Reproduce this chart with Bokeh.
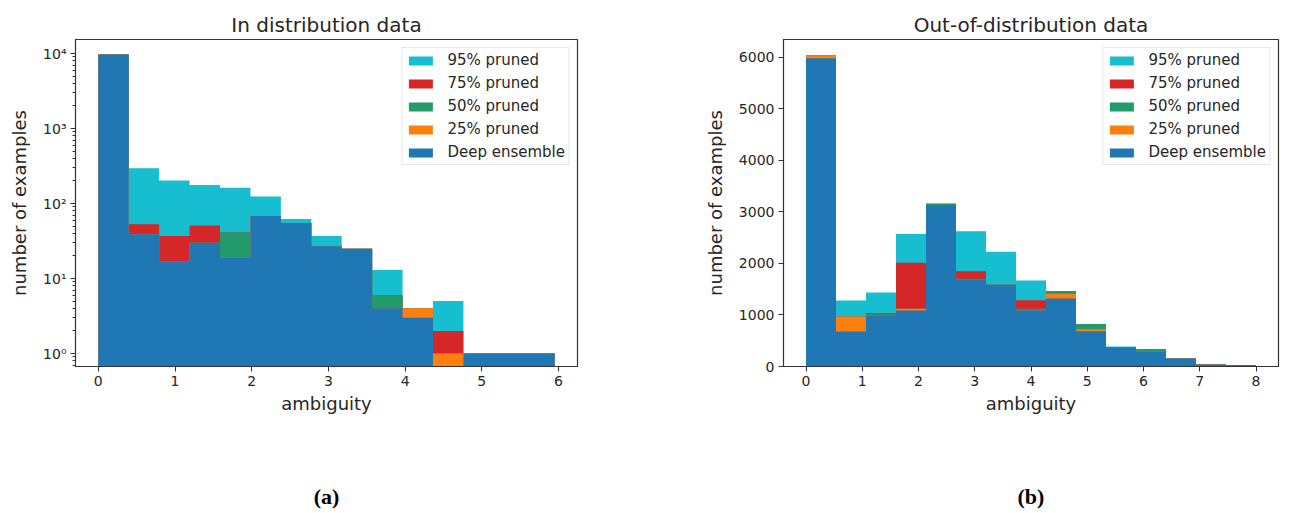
from bokeh.plotting import figure
from bokeh.models import (Range1d, Legend, LegendItem, ColumnDataSource, LogTicker,
                          SingleIntervalTicker, CustomJSTickFormatter, LinearAxis, FixedTicker)
from bokeh.layouts import row
from bokeh.embed import file_html
from bokeh.resources import INLINE

# ---------------- data ----------------
series_names = ["95% pruned", "75% pruned", "50% pruned", "25% pruned", "Deep ensemble"]
series_colors = ["#17becf", "#d62728", "#229a6a", "#ff7f0e", "#1f77b4"]

# In-distribution: 15 bins over ambiguity 0 .. 5.95
in_max_amb = 5.95
in_p95 = [9700, 296, 203, 177, 162, 124, 62, 37, 25, 13, 4, 5, 1, 1, 1]
in_p75 = [9700, 53, 37, 51, 41, 68, 55, 27, 25, 6, 4, 2, 1, 1, 1]
in_p50 = [9700, 39, 17, 30, 41, 68, 55, 27, 25, 6, 4, 1, 1, 1, 1]
in_p25 = [9700, 39, 17, 30, 19, 68, 55, 27, 25, 4, 4, 1, 1, 1, 1]
in_de = [9700, 39, 17, 30, 19, 68, 55, 27, 25, 4, 3, 0, 1, 1, 1]

# Out-of-distribution: 15 bins over ambiguity 0 .. 8.0
ood_max_amb = 8.0
ood_p95 = [6040, 1280, 1435, 2570, 3160, 2625, 2225, 1670, 1465, 825, 390, 335, 155, 40, 30]
ood_p75 = [6040, 970, 1035, 2015, 3160, 1850, 1585, 1285, 1460, 825, 375, 335, 155, 40, 30]
ood_p50 = [6040, 970, 1015, 1120, 3160, 1705, 1585, 1120, 1460, 825, 375, 335, 155, 40, 30]
ood_p25 = [6040, 970, 990, 1120, 3135, 1680, 1585, 1090, 1410, 725, 375, 285, 155, 40, 30]
ood_de = [5980, 680, 990, 1085, 3135, 1680, 1585, 1090, 1320, 685, 375, 285, 155, 40, 30]

captions = ["(a)", "(b)"]

FONT = "DejaVu Sans"
TXT = "#262626"


def style(p, xlabel, ylabel):
    p.title.text_font = FONT
    p.title.text_font_size = "20px"
    p.title.text_font_style = "normal"
    p.title.text_color = TXT
    p.title.align = "center"
    p.title.standoff = 5
    p.outline_line_color = "#333333"
    p.outline_line_width = 1.2
    p.background_fill_color = "white"
    p.border_fill_color = "white"
    p.grid.grid_line_color = None
    for ax in (p.xaxis[0], p.yaxis[0]):
        ax.axis_line_color = "#333333"
        ax.major_tick_line_color = "#333333"
        ax.minor_tick_line_color = None
        ax.major_tick_in = 0
        ax.major_tick_out = 5
        ax.major_label_text_font = FONT
        ax.major_label_text_font_size = "14px"
        ax.major_label_text_color = TXT
        ax.axis_label_text_font = FONT
        ax.axis_label_text_font_size = "18px"
        ax.axis_label_text_font_style = "normal"
        ax.axis_label_text_color = TXT
        ax.major_label_standoff = 4
    p.xaxis[0].axis_label = xlabel
    p.yaxis[0].axis_label = ylabel
    p.xaxis[0].axis_label_standoff = 4
    p.yaxis[0].axis_label_standoff = 10


def draw_hist(p, max_amb, cols, floor):
    n = len(cols[0])
    w = max_amb / n
    edges = [i * w for i in range(n + 1)]
    items = []
    for name, color, vals in zip(series_names, series_colors, cols):
        tops = [v if v > 0 else floor for v in vals]
        src = ColumnDataSource(dict(x=edges, y1=[floor] * (n + 1), y2=tops + [tops[-1]]))
        r = p.varea_step(x="x", y1="y1", y2="y2", step_mode="after", source=src,
                         fill_color=color)
        items.append(LegendItem(label=name, renderers=[r]))
    leg = Legend(items=items, location="top_right")
    leg.label_text_font = FONT
    leg.label_text_font_size = "15px"
    leg.label_text_color = TXT
    leg.glyph_width = 30
    leg.glyph_height = 11
    leg.label_height = 18
    leg.label_standoff = 12
    leg.spacing = 5
    leg.padding = 3
    leg.margin = 8
    leg.border_line_color = "#d0d0d0"
    leg.border_line_width = 1
    leg.background_fill_alpha = 0.9
    p.add_layout(leg)


def caption(p, txt):
    # an empty axis whose label serves as the sub-figure caption
    ax = LinearAxis(ticker=FixedTicker(ticks=[]), axis_label=txt,
                    axis_line_color=None, major_tick_line_color=None,
                    minor_tick_line_color=None,
                    axis_label_text_font="Liberation Serif",
                    axis_label_text_font_size="22px",
                    axis_label_text_font_style="bold",
                    axis_label_text_color="black",
                    axis_label_standoff=67)
    p.add_layout(ax, "below")


# ---------------- left: in distribution (log y) ----------------
p1 = figure(width=660, height=513, output_backend="svg", toolbar_location=None,
            y_axis_type="log",
            x_range=Range1d(-0.05 * in_max_amb, 1.05 * in_max_amb),
            y_range=Range1d(10 ** -0.173, 10 ** 4.187),
            min_border_left=75, min_border_right=83, min_border_top=39, min_border_bottom=147,
            title="In distribution data")
draw_hist(p1, in_max_amb, [in_p95, in_p75, in_p50, in_p25, in_de], 0.1)
style(p1, "ambiguity", "number of examples")
p1.xaxis[0].ticker = SingleIntervalTicker(interval=1, num_minor_ticks=0)
p1.yaxis[0].ticker = LogTicker(mantissas=[1], num_minor_ticks=10)
p1.yaxis[0].minor_tick_line_color = "#333333"
p1.yaxis[0].minor_tick_in = 0
p1.yaxis[0].minor_tick_out = 3
p1.yaxis[0].formatter = CustomJSTickFormatter(code="""
const sup = {'0':'\u2070','1':'\u00b9','2':'\u00b2','3':'\u00b3','4':'\u2074',
             '5':'\u2075','6':'\u2076','7':'\u2077','8':'\u2078','9':'\u2079','-':'\u207b'};
const e = Math.round(Math.log10(tick));
return '10' + String(e).split('').map(c => sup[c]).join('');
""")
caption(p1, captions[0])

# ---------------- right: out of distribution (linear y) ----------------
p2 = figure(width=630, height=513, output_backend="svg", toolbar_location=None,
            x_range=Range1d(-0.05 * ood_max_amb, 1.05 * ood_max_amb),
            y_range=Range1d(0, 6345),
            min_border_left=123, min_border_right=12, min_border_top=39, min_border_bottom=147,
            title="Out-of-distribution data")
draw_hist(p2, ood_max_amb, [ood_p95, ood_p75, ood_p50, ood_p25, ood_de], 0)
style(p2, "ambiguity", "number of examples")
p2.xaxis[0].ticker = SingleIntervalTicker(interval=1, num_minor_ticks=0)
p2.yaxis[0].ticker = SingleIntervalTicker(interval=1000, num_minor_ticks=0)
caption(p2, captions[1])

layout = row(p1, p2)
open("out.html", "w").write(file_html(layout, INLINE))
